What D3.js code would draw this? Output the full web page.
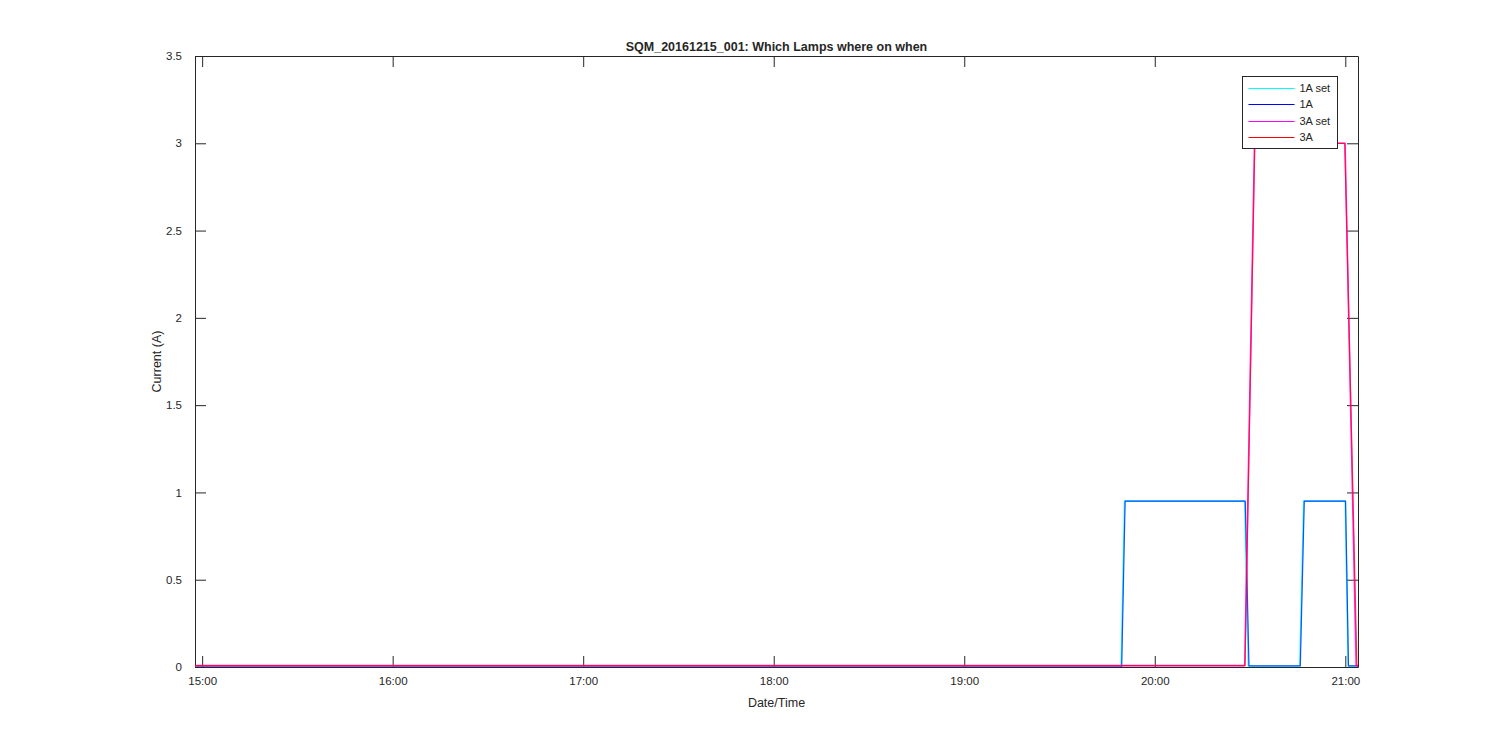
<!DOCTYPE html>
<html>
<head>
<meta charset="utf-8">
<style>
    body { margin: 0; background: #fff; }
    text { font-family: "Liberation Sans", Arial, sans-serif; fill: #262626; }
</style>
</head>
<body>
<div class="board"></div>
<script src="https://cdnjs.cloudflare.com/ajax/libs/d3/7.8.5/d3.min.js"></script>
<script>
    // values (time of day, current in A)
    var set1A_t = ["14:57:45", "19:49:25", "19:50:30", "20:28:20", "20:29:30", "20:45:40", "20:46:55", "21:00:00", "21:00:55", "21:04:00"]
    var set1A_v = [0, 0, 0.95, 0.95, 0.006, 0.006, 0.95, 0.95, 0.006, 0.006]
    var meas1A_t = ["14:57:45", "19:49:35", "19:50:40", "20:28:30", "20:29:40", "20:45:50", "20:47:05", "21:00:05", "21:01:00", "21:04:00"]
    var meas1A_v = [0, 0, 0.95, 0.95, 0.006, 0.006, 0.95, 0.95, 0.006, 0.006]
    var set3A_t = ["14:57:45", "20:28:20", "20:31:25", "20:59:55", "21:03:25", "21:04:00"]
    var set3A_v = [0.008, 0.008, 3.0, 3.0, 0.008, 0.008]
    var meas3A_t = ["14:57:45", "20:28:25", "20:31:30", "20:59:50", "21:03:40", "21:04:00"]
    var meas3A_v = [0.008, 0.008, 3.0, 3.0, 0.008, 0.008]

    var seriesNames = ["1A set", "1A", "3A set", "3A"]
    var seriesColors = ["#00ffff", "#0000ff", "#ff00ff", "#ff0000"]
    var seriesWidths = [1.6, 1.2, 1.6, 1.2]

    var xTicks = ["15:00", "16:00", "17:00", "18:00", "19:00", "20:00", "21:00"]
    var yTicks = [0, 0.5, 1, 1.5, 2, 2.5, 3, 3.5]
    var xStart = "14:57:45", xEnd = "21:04:00"

    var W = 1500, H = 750
    var margin = { top: 56, right: 142, bottom: 83, left: 195 }
    var width = W - margin.left - margin.right,
        height = H - margin.top - margin.bottom

    var parse = d3.timeParse("%Y-%m-%d %H:%M:%S")
    var T = s => parse("2016-12-15 " + (s.length == 5 ? s + ":00" : s))

    var svg = d3.select(".board")
        .append("svg")
        .attr("width", W)
        .attr("height", H)

    var g = svg.append("g")
        .attr("transform", "translate(" + margin.left + "," + margin.top + ")")

    var x = d3.scaleTime()
        .domain([T(xStart), T(xEnd)])
        .range([0, width])
    var y = d3.scaleLinear()
        .domain([0, 3.5])
        .range([height, 0])

    var tickVals = xTicks.map(T)
    var fmt = d3.timeFormat("%H:%M")

    // axes with inward ticks, box style
    var TICK = 11
    g.append("g")
        .attr("transform", "translate(0," + height + ")")
        .call(d3.axisBottom(x).tickValues(tickVals).tickFormat(fmt).tickSizeInner(-TICK).tickSizeOuter(0).tickPadding(10))
    g.append("g")
        .call(d3.axisTop(x).tickValues(tickVals).tickFormat("").tickSizeInner(-TICK).tickSizeOuter(0))
    g.append("g")
        .call(d3.axisLeft(y).tickValues(yTicks).tickFormat(d3.format("")).tickSizeInner(-TICK).tickSizeOuter(0).tickPadding(13))
    g.append("g")
        .attr("transform", "translate(" + width + ",0)")
        .call(d3.axisRight(y).tickValues(yTicks).tickFormat("").tickSizeInner(-TICK).tickSizeOuter(0))

    g.selectAll(".domain").attr("stroke", "#262626")
    g.selectAll(".tick line").attr("stroke", "#262626")
    g.selectAll(".tick text").style("font-size", "11.5px").attr("fill", "#262626")

    // lines
    var line = d3.line()
        .x(d => x(d.t))
        .y(d => y(d.v))

    var series = [
        [set1A_t, set1A_v],
        [meas1A_t, meas1A_v],
        [set3A_t, set3A_v],
        [meas3A_t, meas3A_v]
    ].map(s => s[0].map((t, i) => ({ t: T(t), v: s[1][i] })))

    g.append("g")
        .selectAll("path")
        .data(series)
        .enter()
        .append("path")
        .attr("fill", "none")
        .attr("stroke", (d, i) => seriesColors[i])
        .attr("stroke-width", (d, i) => seriesWidths[i])
        .attr("stroke-opacity", (d, i) => i % 2 == 1 ? 0.7 : 0.85)
        .attr("stroke-linejoin", "round")
        .attr("d", line)

    // redraw bottom border over the lines
    g.append("line")
        .attr("x1", 0).attr("x2", width)
        .attr("y1", height + 0.5).attr("y2", height + 0.5)
        .attr("stroke", "#262626")

    // title and axis labels
    svg.append("text")
        .attr("x", margin.left + width / 2)
        .attr("y", 51)
        .attr("text-anchor", "middle")
        .style("font-size", "12.5px")
        .style("font-weight", "bold")
        .text("SQM_20161215_001: Which Lamps where on when")

    svg.append("text")
        .attr("x", margin.left + width / 2)
        .attr("y", 707)
        .attr("text-anchor", "middle")
        .style("font-size", "12.5px")
        .text("Date/Time")

    svg.append("text")
        .attr("transform", "translate(161," + (margin.top + height / 2) + ") rotate(-90)")
        .attr("text-anchor", "middle")
        .style("font-size", "12.5px")
        .text("Current (A)")

    // legend
    var legend = svg.append("g")
        .attr("transform", "translate(1242.5,76.5)")
    legend.append("rect")
        .attr("width", 95)
        .attr("height", 72)
        .attr("fill", "white")
        .attr("stroke", "#262626")

    var rows = legend.selectAll(".row")
        .data(seriesNames)
        .enter()
        .append("g")
        .attr("transform", (d, i) => "translate(0," + Math.round(12 + i * 16.3) + ")")
    rows.append("line")
        .attr("x1", 6).attr("x2", 52)
        .attr("stroke", (d, i) => seriesColors[i])
        .attr("stroke-width", 1)
    rows.append("text")
        .attr("x", 57)
        .attr("dy", "0.35em")
        .style("font-size", "11px")
        .text(d => d)
</script>
</body>
</html>
